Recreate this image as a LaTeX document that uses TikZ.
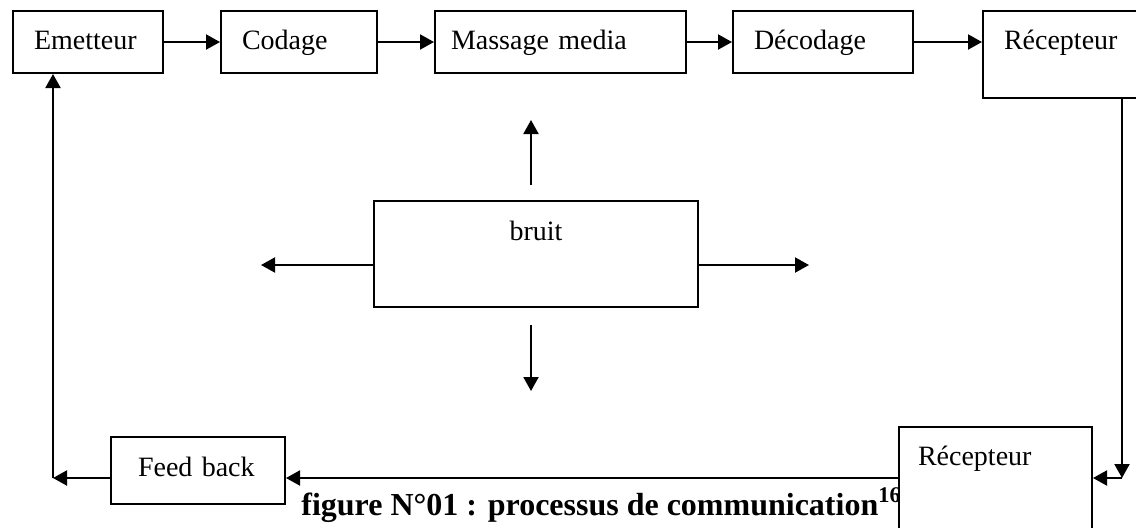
\documentclass[tikz,border=0pt]{standalone}
\usepackage{fontspec}
\setmainfont{Liberation Serif}
\usetikzlibrary{
  arrows.meta,
  positioning
}
\tikzset{
  etape/.style={
    draw,
    line width=1pt,
    anchor=north west,
    align=left,
    inner xsep=10.5pt,
    inner ysep=0pt,
    text height=19pt,
    text depth=12pt,
    font=\fontsize{14}{16}\selectfont
  },
  fleche/.style={-{Triangle[length=7pt,width=7.5pt]},line width=1pt}
}

\begin{document}
\begin{tikzpicture}[x=0.5pt,y=-0.5pt]
  \useasboundingbox (0,0) rectangle (1136,527);
  % chaine du haut
  \node[etape,text width=54pt] (emet) at (12,10) {Emetteur};
  \node[etape,text width=57pt,right=28pt of emet.north east,anchor=north west] (cod) {Codage};
  \node[etape,text width=109.5pt,inner xsep=8pt,right=28pt of cod.north east,anchor=north west] (msg) {Massage media};
  \node[etape,text width=69pt,right=22.5pt of msg.north east,anchor=north west] (dec) {Décodage};
  \node[etape,text width=62pt,text depth=24.5pt,right=34pt of dec.north east,anchor=north west] (rtop) {Récepteur};
  % bruit
  \node[etape,align=center,text width=141pt,text height=19.5pt,text depth=33.5pt] (bruit) at (373,200) {bruit};
  % chaine du bas
  \node[etape,text width=77.5pt,inner xsep=9.5pt,text depth=35.5pt] (rbot) at (898,426) {Récepteur};
  \node[etape,text width=60pt,inner xsep=13.5pt,text height=19.5pt,text depth=14pt] (fb) at (110,436) {Feed back};
  \node[anchor=base west,inner sep=0pt,font=\bfseries\fontsize{16}{18}\selectfont] (titre) at (301,515)
    {figure N°01 : processus de communication\textsuperscript{16}};
  \coordinate (coinD) at (1122,478);
  \coordinate (coinG) at (53,478);

  \draw[fleche] (emet) -- (cod);
  \draw[fleche] (cod) -- (msg);
  \draw[fleche] (msg) -- (dec);
  \draw[fleche] (dec) -- (dec.east -| rtop.west);
  \draw[fleche] (rtop.south -| coinD) -- (coinD);
  \draw[fleche] (coinD) -- (coinD -| rbot.east);
  \draw[fleche] (rbot.west |- coinD) -- (coinD -| fb.east);
  \draw[fleche] (fb.west |- coinG) -- (coinG);
  \draw[fleche] (coinG) -- (coinG |- emet.south);
  % fleches du bruit
  \draw[fleche] ([xshift=-2.5pt,yshift=7.5pt]bruit.north) -- ++(0pt,32.5pt);
  \draw[fleche] ([xshift=-2.5pt,yshift=-8.5pt]bruit.south) -- ++(0pt,-33pt);
  \draw[fleche] ([yshift=-5.5pt]bruit.west) -- ++(-56pt,0pt);
  \draw[fleche] ([yshift=-5.5pt]bruit.east) -- ++(55pt,0pt);
\end{tikzpicture}
\end{document}
